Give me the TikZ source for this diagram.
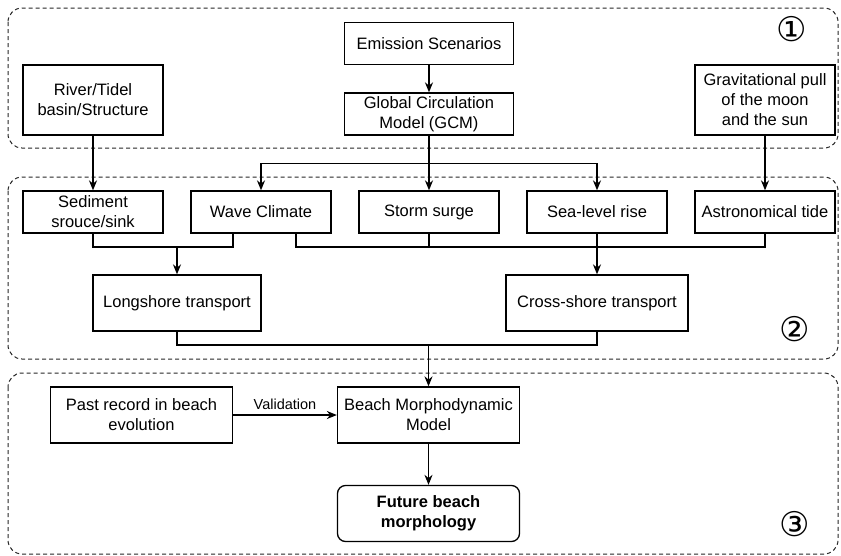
\documentclass[tikz,border=0pt]{standalone}
\usepackage{fontspec}
\setmainfont{Liberation Sans}
\newfontfamily\symfont{DejaVu Sans}
\usetikzlibrary{positioning, arrows.meta}

\begin{document}
\begin{tikzpicture}
	[x=1pt, y=-1pt, on grid, node distance=168pt, line width=1.3pt,
	 box/.style={draw, minimum width=140pt, minimum height=42pt, align=center,
	   inner sep=2pt, font=\fontsize{16.5}{20}\selectfont},
	 widebox/.style={box, minimum width=182pt, minimum height=56pt},
	 group/.style={draw=black!85, dash pattern=on 4pt off 3pt, line width=1pt,
	   rounded corners=14pt},
	 num/.style={font=\symfont\fontsize{34}{34}\selectfont, inner sep=0pt},
	 >={Stealth[length=10pt,width=8pt]}]
   \useasboundingbox (0,0) rectangle (841,555);
   % the three groups
   \draw[group] (8,8) rectangle (838,148);
   \draw[group] (8,177) rectangle (838,359);
   \draw[group] (8,373) rectangle (838,554);
   % row of drivers
   \node[box] (sed) at (93,212) {Sediment\\srouce/sink};
   \node[box] (wave) [right=of sed] {Wave Climate};
   \node[box] (storm) [right=of wave] {Storm surge};
   \node[box] (sea) [right=of storm] {Sea-level rise};
   \node[box] (astro) [right=of sea] {Astronomical tide};
   % sources
   \node[box, minimum height=70pt] (river) [above=112pt of sed] {River/Tidel\\basin/Structure};
   \node[box, minimum height=70pt] (grav) [above=112pt of astro] {Gravitational pull\\of the moon\\and the sun};
   \node[box, minimum width=169pt] (gcm) [above=98pt of storm] {Global Circulation\\Model (GCM)};
   \node[box, minimum width=169pt] (emis) [above=70.5pt of gcm] {Emission Scenarios};
   % transport
   \coordinate (lsplit) at (177,247);
   \coordinate (csplit) at (sea.south |- lsplit);
   \node[box, minimum width=168pt, minimum height=56pt] (long) at (177,303) {Longshore transport};
   \node[widebox] (cross) at (597,303) {Cross-shore transport};
   % model
   \coordinate (msplit) at (428.5,345);
   \node[widebox] (beach) at (428.5,415) {Beach Morphodynamic\\Model};
   \node[widebox] (past) [left=287pt of beach] {Past record in beach\\evolution};
   \node[widebox, rounded corners=8pt, font=\bfseries\fontsize{16.5}{20}\selectfont] (future) [below=98.5pt of beach] {Future beach\\morphology};
   % group numbers
   \node[num] (n1) at (792,29) {①};
   \node[num] (n2) at (795,329) {②};
   \node[num] (n3) at (795,524) {③};
    \path[->]
    (emis) edge (gcm)
    (river) edge (sed)
    (grav) edge (astro)
    (gcm) edge (storm);
   \draw[->] (gcm.south) -- ++(0,28) -| (wave.north);
   \draw[->] (gcm.south) -- ++(0,28) -| (sea.north);
   \draw (sed.south) |- (lsplit);
   \draw ([xshift=-28pt]wave.south) |- (lsplit);
   \draw[->] (lsplit) -- (long);
   \draw ([xshift=35pt]wave.south) |- (csplit);
   \draw (storm.south) -- (storm.south |- csplit);
   \draw (astro.south) |- (csplit);
   \draw[->] (sea) -- (cross);
   \draw (long.south) |- (msplit);
   \draw (cross.south) |- (msplit);
   \draw[->] (msplit) -- (beach);
   \draw[->] (past) -- node[above=1pt, font=\fontsize{14.5}{17}\selectfont] (val) {Validation} (beach);
   \draw[->] (beach) -- (future);
\end{tikzpicture}
\end{document}
